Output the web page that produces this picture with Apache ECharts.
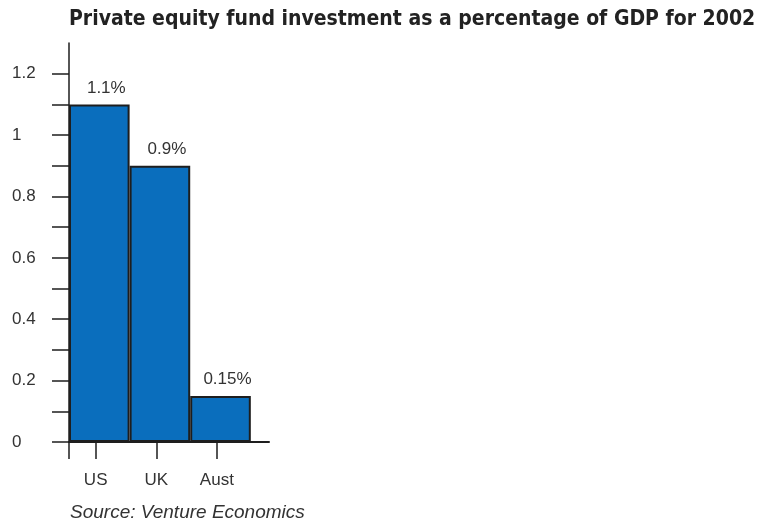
<!DOCTYPE html>
<html>
<head>
<meta charset="utf-8">
<script src="https://cdn.jsdelivr.net/npm/echarts@6/dist/echarts.min.js"></script>
<style>
  html, body { margin: 0; padding: 0; background: #ffffff; }
  #chart { width: 777px; height: 524px; }
</style>
</head>
<body>
<div id="chart"></div>
<script>
// Private equity investment relative to GDP, 2002
const categories = ['US', 'UK', 'Aust'];
const shareOfGdp = [1.1, 0.9, 0.15];
const valueLabels = ['1.1%', '0.9%', '0.15%'];
const yTickValues = [0, 0.1, 0.2, 0.3, 0.4, 0.5, 0.6, 0.7, 0.8, 0.9, 1, 1.1, 1.2];
const yLabelValues = [0, 0.2, 0.4, 0.6, 0.8, 1, 1.2];

const labelFont = '"Liberation Sans", Arial, sans-serif';
const ink = '#1e1e1e';
const textColor = '#333333';

// x is a value axis in "category units": each bar occupies one unit
const xMax = 3.3;
const plotWidth = 200;
const unitPx = plotWidth / xMax;
const tickShift = 0.44;
const xTickValues = [0].concat(categories.map((c, i) => i + tickShift));
const xLabelValues = categories.map((c, i) => i + tickShift);

const chart = echarts.init(document.getElementById('chart'), null, { renderer: 'canvas' });

chart.setOption({
  animation: false,
  backgroundColor: '#ffffff',
  title: [
    {
      text: 'Private equity fund investment as a percentage of GDP for 2002',
      left: 69,
      top: 9,
      padding: 0,
      textStyle: {
        fontFamily: '"Liberation Sans Narrow", "DejaVu Sans Condensed", "Liberation Sans", sans-serif',
        fontWeight: 'bold',
        fontSize: 21,
        color: '#222222'
      }
    },
    {
      text: 'Source: Venture Economics',
      left: 70,
      top: 503,
      padding: 0,
      textStyle: {
        fontFamily: labelFont,
        fontStyle: 'italic',
        fontWeight: 'normal',
        fontSize: 19,
        color: textColor
      }
    }
  ],
  grid: {
    left: 69,
    top: 43,
    width: plotWidth,
    height: 399,
    containLabel: false
  },
  xAxis: {
    type: 'value',
    min: 0,
    max: xMax,
    splitLine: { show: false },
    axisLine: { show: true, lineStyle: { color: ink, width: 2 } },
    axisTick: {
      show: true,
      inside: false,
      length: 17,
      customValues: xTickValues,
      lineStyle: { color: ink, width: 1.5 }
    },
    axisLabel: {
      show: true,
      customValues: xLabelValues,
      margin: 30,
      fontFamily: labelFont,
      fontSize: 17,
      color: textColor,
      formatter: function (v) {
        return categories[Math.round(v - tickShift)];
      }
    }
  },
  yAxis: {
    type: 'value',
    min: 0,
    max: 1.3,
    splitLine: { show: false },
    axisLine: { show: true, lineStyle: { color: ink, width: 1.5 } },
    axisTick: {
      show: true,
      inside: false,
      length: 17,
      customValues: yTickValues,
      lineStyle: { color: ink, width: 1.5 }
    },
    axisLabel: {
      show: true,
      customValues: yLabelValues,
      align: 'left',
      margin: 57,
      padding: [0, 0, 6, 0],
      fontFamily: labelFont,
      fontSize: 17,
      color: textColor
    }
  },
  series: [
    {
      type: 'bar',
      barWidth: unitPx,
      data: shareOfGdp.map((v, i) => [i + 0.5, v]),
      itemStyle: {
        color: '#0a6ebd',
        borderColor: ink,
        borderWidth: 2
      },
      label: {
        show: true,
        position: 'top',
        distance: 8,
        offset: [7, 0],
        fontFamily: labelFont,
        fontSize: 17,
        color: textColor,
        formatter: function (p) {
          return valueLabels[p.dataIndex];
        }
      }
    }
  ]
});
</script>
</body>
</html>
